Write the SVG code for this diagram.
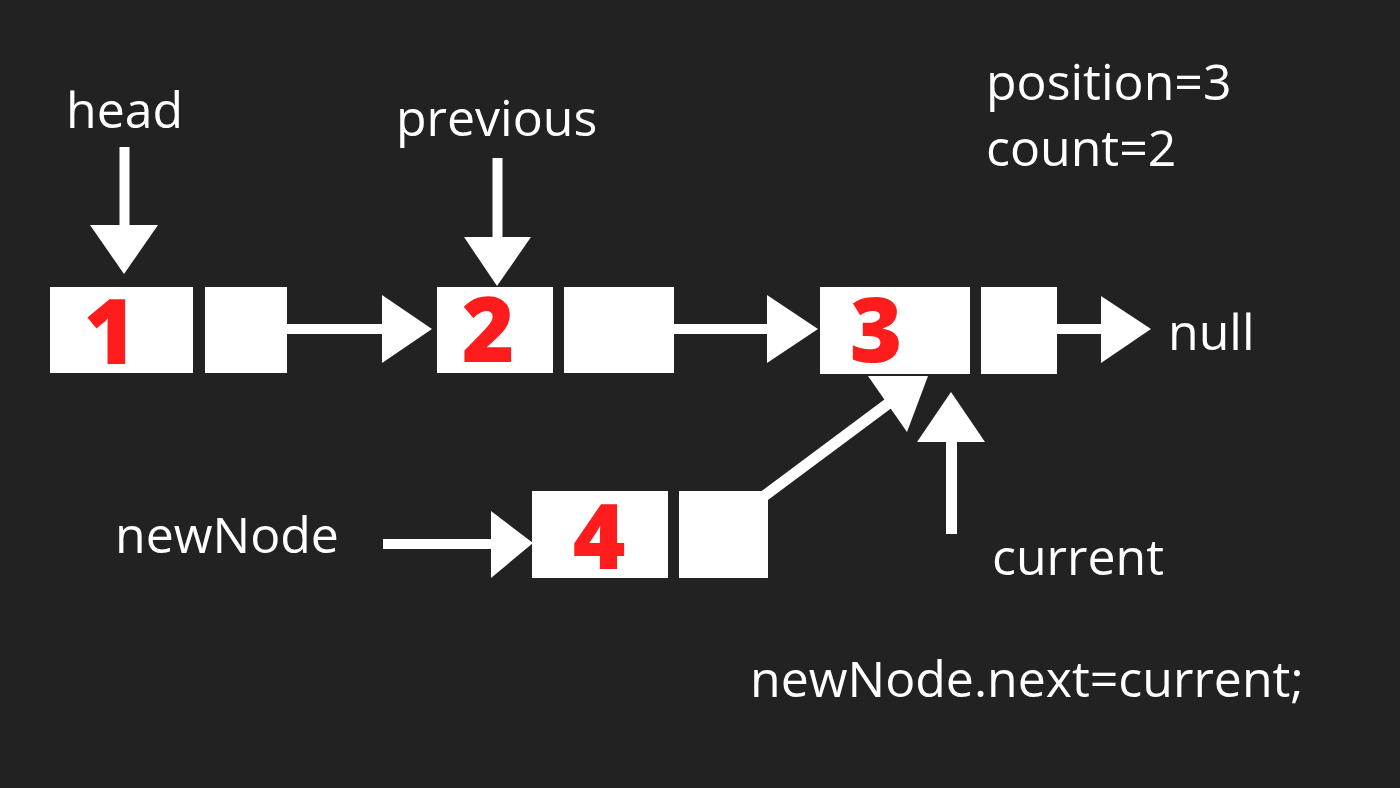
<svg xmlns="http://www.w3.org/2000/svg" width="1400" height="788" viewBox="0 0 1400 788">
  <style>
    .box { fill: #ffffff; }
    .num { font-family: "Open Sans", "Liberation Sans", sans-serif; font-weight: 800; font-size: 90px; fill: #ff1c1c; text-anchor: middle; }
    .lbl { font-family: "Open Sans", "Liberation Sans", sans-serif; font-size: 50px; fill: #ffffff; }
    .shaft { stroke: #ffffff; stroke-width: 10; fill: none; }
    .head { fill: #ffffff; }
  </style>
  <rect x="0" y="0" width="1400" height="788" fill="#222222"/>

  <g id="node1">
    <rect class="box" x="50" y="287" width="143" height="86"/>
    <rect class="box" x="205" y="287" width="82" height="86"/>
    <text class="num" x="110" y="364">1</text>
  </g>
  <g id="node2">
    <rect class="box" x="437" y="287" width="116" height="86"/>
    <rect class="box" x="564" y="287" width="110" height="86"/>
    <text class="num" x="488" y="362">2</text>
  </g>
  <g id="node3">
    <rect class="box" x="820" y="287" width="150" height="87"/>
    <rect class="box" x="981" y="287" width="76" height="87"/>
    <text class="num" x="876" y="362">3</text>
  </g>
  <g id="node4">
    <rect class="box" x="532" y="491" width="136" height="87"/>
    <rect class="box" x="679" y="491" width="89" height="87"/>
    <text class="num" x="599" y="569">4</text>
  </g>

  <g id="label-head"><text class="lbl" x="66" y="128">head</text></g>
  <g id="label-previous"><text class="lbl" x="396" y="136">previous</text></g>
  <g id="label-position"><text class="lbl" x="986" y="100">position=3</text></g>
  <g id="label-count"><text class="lbl" x="986" y="166">count=2</text></g>
  <g id="label-null"><text class="lbl" x="1168" y="350">null</text></g>
  <g id="label-newNode"><text class="lbl" x="115" y="553">newNode</text></g>
  <g id="label-current"><text class="lbl" x="992" y="575">current</text></g>
  <g id="label-code"><text class="lbl" x="750" y="697">newNode.next=current;</text></g>

  <g id="connectors">
    <!-- head pointer -->
    <line class="shaft" x1="124.5" y1="147" x2="124.5" y2="226"/>
    <polygon class="head" points="90,225 158,225 124,274"/>
    <!-- previous pointer -->
    <line class="shaft" x1="497.5" y1="158" x2="497.5" y2="238"/>
    <polygon class="head" points="464,237 531,237 497,286"/>
    <!-- 1 -> 2 -->
    <line class="shaft" x1="287" y1="329" x2="383" y2="329"/>
    <polygon class="head" points="382,295 382,363 432,329"/>
    <!-- 2 -> 3 -->
    <line class="shaft" x1="674" y1="329" x2="768" y2="329"/>
    <polygon class="head" points="767,295 767,363 818,329"/>
    <!-- 3 -> null -->
    <line class="shaft" x1="1057" y1="329" x2="1102" y2="329"/>
    <polygon class="head" points="1101,296 1101,363 1151,329"/>
    <!-- newNode pointer -->
    <line class="shaft" x1="383" y1="544" x2="492" y2="544"/>
    <polygon class="head" points="491,511 491,578 533,543"/>
    <!-- 4 -> 3 (newNode.next) -->
    <line class="shaft" x1="764" y1="496" x2="889" y2="403" style="stroke-width:11"/>
    <polygon class="head" points="868,376 928,376 907,432"/>
    <!-- current pointer -->
    <line class="shaft" x1="951.5" y1="534" x2="951.5" y2="441" style="stroke-width:11"/>
    <polygon class="head" points="951,392 917,442 985,442"/>
  </g>
</svg>
